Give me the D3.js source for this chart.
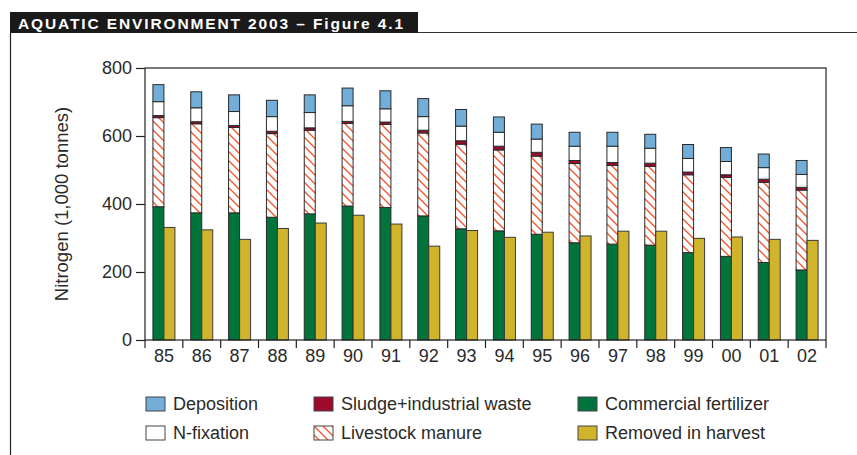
<!DOCTYPE html>
<html>
<head>
<meta charset="utf-8">
<script src="https://cdn.jsdelivr.net/npm/d3@7"></script>
<style>
  body { margin: 0; background: #fff; }
  svg { display: block; font-family: 'Liberation Sans', Arial, sans-serif; }
</style>
</head>
<body>
<div id="chart"></div>
<script>
const years = ['85', '86', '87', '88', '89', '90', '91', '92', '93', '94', '95', '96', '97', '98', '99', '00', '01', '02'];
const fertilizer = [392, 374, 374, 361, 371, 394, 390, 365, 327, 321, 311, 286, 282, 279, 257, 246, 228, 206];
const manure = [262, 262, 251, 246, 246, 243, 244, 244, 249, 238, 230, 233, 232, 232, 229, 232, 236, 235];
const sludge = [6, 6, 6, 7, 7, 6, 7, 8, 10, 11, 11, 9, 8, 9, 8, 8, 9, 8];
const nFixation = [41, 41, 41, 43, 45, 46, 39, 40, 43, 41, 39, 42, 48, 44, 40, 39, 34, 38];
const deposition = [50, 47, 49, 48, 52, 52, 53, 53, 49, 45, 44, 41, 41, 41, 41, 41, 40, 41];
const harvest = [331, 324, 296, 328, 344, 367, 341, 276, 322, 302, 317, 306, 320, 320, 299, 303, 296, 293];
const yTicks = [0, 200, 400, 600, 800];

const W = 857, H = 455;
const margin = { top: 68, right: 31, bottom: 115, left: 145 };
const width = W - margin.left - margin.right;
const height = H - margin.top - margin.bottom;

const colors = {
  deposition: '#72aed8',
  nFixation: '#ffffff',
  sludge: '#9c0a2c',
  manure: 'url(#hatch)',
  fertilizer: '#00743a',
  harvest: '#d0b52c',
};

const rows = years.map((yr, i) => ({
  year: yr,
  fertilizer: fertilizer[i],
  manure: manure[i],
  sludge: sludge[i],
  nFixation: nFixation[i],
  deposition: deposition[i],
  harvest: harvest[i],
}));

const svg = d3.select('#chart').append('svg').attr('width', W).attr('height', H);

const defs = svg.append('defs');
const pat = defs.append('pattern')
  .attr('id', 'hatch')
  .attr('patternUnits', 'userSpaceOnUse')
  .attr('width', 9)
  .attr('height', 9);
pat.append('rect').attr('width', 9).attr('height', 9).attr('fill', '#fff');
pat.append('path')
  .attr('d', 'M-2,-2 L11,11 M-2,7 L2,11 M7,-2 L11,2')
  .attr('stroke', '#f2522a')
  .attr('stroke-width', 1.3);

// header
svg.append('rect').attr('x', 10).attr('y', 12).attr('width', 408).attr('height', 21).attr('fill', '#1a1a1a');
svg.append('text')
  .attr('x', 18).attr('y', 28.5)
  .attr('fill', '#fff')
  .style('font-weight', 'bold')
  .style('font-size', '15.5px')
  .attr('textLength', 385)
  .attr('lengthAdjust', 'spacing')
  .text('AQUATIC ENVIRONMENT 2003 \u2013 Figure 4.1');
svg.append('line').attr('x1', 418).attr('x2', W).attr('y1', 32.5).attr('y2', 32.5).attr('stroke', '#333').attr('stroke-width', 1);
svg.append('line').attr('x1', 10.5).attr('x2', 10.5).attr('y1', 33).attr('y2', H).attr('stroke', '#222').attr('stroke-width', 1.2);

const g = svg.append('g').attr('transform', 'translate(' + margin.left + ',' + margin.top + ')');

const x = d3.scaleBand().domain(years).range([0, width]).paddingInner(0).paddingOuter(0);
const x1 = d3.scaleBand().domain(['stack', 'harvest']).range([0, x.bandwidth()]).paddingInner(0).paddingOuter(0.72);
const y = d3.scaleLinear().domain([0, 800]).range([height, 0]);

const keys = ['fertilizer', 'manure', 'sludge', 'nFixation', 'deposition'];
const series = d3.stack().keys(keys)(rows);

g.selectAll('.layer')
  .data(series)
  .enter()
  .append('g')
  .attr('class', 'layer')
  .attr('fill', (d) => colors[d.key])
  .selectAll('rect')
  .data((d) => d)
  .enter()
  .append('rect')
  .attr('x', (d) => x(d.data.year) + x1('stack'))
  .attr('width', x1.bandwidth())
  .attr('y', (d) => y(d[1]))
  .attr('height', (d) => y(d[0]) - y(d[1]))
  .attr('stroke', '#2a2a2a')
  .attr('stroke-width', 1);

g.selectAll('.harvest')
  .data(rows)
  .enter()
  .append('rect')
  .attr('class', 'harvest')
  .attr('x', (d) => x(d.year) + x1('harvest'))
  .attr('width', x1.bandwidth())
  .attr('y', (d) => y(d.harvest))
  .attr('height', (d) => height - y(d.harvest))
  .attr('fill', colors.harvest)
  .attr('stroke', '#3a3a3a')
  .attr('stroke-width', 1);

// frame
g.append('rect')
  .attr('x', 0).attr('y', 0).attr('width', width).attr('height', height)
  .attr('fill', 'none').attr('stroke', '#222').attr('stroke-width', 1.2);

// y axis
const yAxis = g.append('g').call(d3.axisLeft(y).tickValues(yTicks).tickSize(9).tickPadding(4));
yAxis.select('.domain').remove();
yAxis.selectAll('line').attr('stroke', '#222').attr('stroke-width', 1.2);
yAxis.selectAll('text').style('font-size', '18px').attr('fill', '#2a2a2a');

// x axis: separators between categories
g.selectAll('.sep')
  .data(years.concat(['end']))
  .enter()
  .append('line')
  .attr('x1', (d, i) => i * x.step())
  .attr('x2', (d, i) => i * x.step())
  .attr('y1', height)
  .attr('y2', height + 8)
  .attr('stroke', '#222')
  .attr('stroke-width', 1.2);

g.selectAll('.xlab')
  .data(years)
  .enter()
  .append('text')
  .attr('x', (d) => x(d) + x.bandwidth() / 2)
  .attr('y', height + 22)
  .attr('text-anchor', 'middle')
  .style('font-size', '18px')
  .attr('fill', '#2a2a2a')
  .text((d) => d);

svg.append('text')
  .attr('transform', 'translate(68,' + (margin.top + height / 2) + ') rotate(-90)')
  .attr('text-anchor', 'middle')
  .style('font-size', '18.5px')
  .attr('fill', '#2a2a2a')
  .text('Nitrogen (1,000 tonnes)');

// legend
const legendItems = [
  { key: 'deposition', label: 'Deposition', col: 0, row: 0 },
  { key: 'nFixation', label: 'N-fixation', col: 0, row: 1 },
  { key: 'sludge', label: 'Sludge+industrial waste', col: 1, row: 0 },
  { key: 'manure', label: 'Livestock manure', col: 1, row: 1 },
  { key: 'fertilizer', label: 'Commercial fertilizer', col: 2, row: 0 },
  { key: 'harvest', label: 'Removed in harvest', col: 2, row: 1 },
];
const colX = [146, 314, 578];
const rowY = [397, 426];

const legend = svg.selectAll('.legend')
  .data(legendItems)
  .enter()
  .append('g')
  .attr('class', 'legend')
  .attr('transform', (d) => 'translate(' + colX[d.col] + ',' + rowY[d.row] + ')');

legend.append('rect')
  .attr('width', 19)
  .attr('height', 14)
  .attr('fill', (d) => colors[d.key])
  .attr('stroke', '#444')
  .attr('stroke-width', 1);

legend.append('text')
  .attr('x', 27)
  .attr('y', 13)
  .style('font-size', '18px')
  .attr('fill', '#2a2a2a')
  .text((d) => d.label);
</script>
</body>
</html>
